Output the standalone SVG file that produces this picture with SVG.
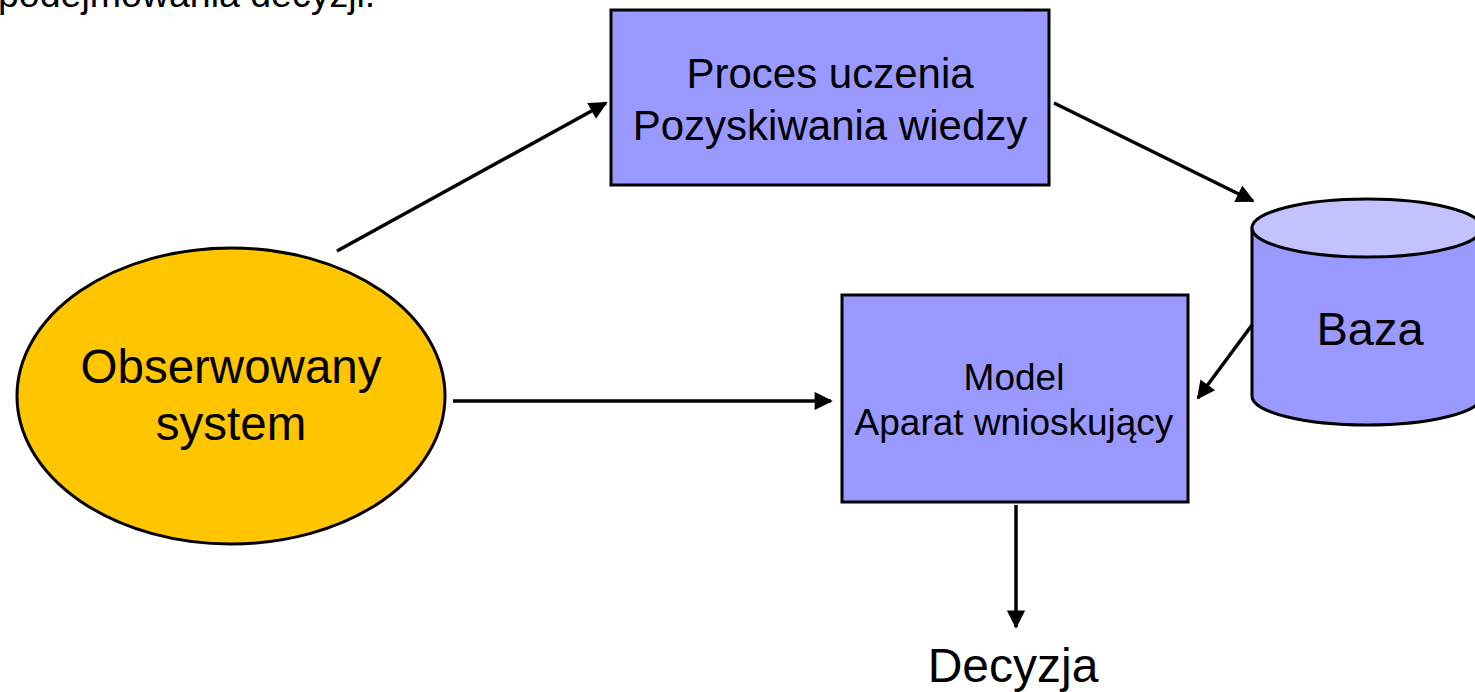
<svg xmlns="http://www.w3.org/2000/svg" width="1475" height="692" viewBox="0 0 1475 692">
<style>
text{font-family:"Liberation Sans",Arial,sans-serif;fill:#000;text-anchor:middle}
.box{fill:#9999FF;stroke:#000;stroke-width:3}
.con{stroke:#000;stroke-width:3.5;fill:none;marker-end:url(#ah)}
</style>
<defs>
<marker id="ah" viewBox="0 0 10 10" refX="9" refY="5" markerWidth="6.5" markerHeight="5.2" markerUnits="strokeWidth" orient="auto">
<path d="M0,0 L10,5 L0,10 Z" fill="#000"/>
</marker>
</defs>
<text x="-2" y="7" style="text-anchor:start;font-size:37.5px">podejmowania decyzji.</text>
<g id="observed">
<ellipse cx="231" cy="396" rx="214" ry="148" fill="#FFC600" stroke="#000" stroke-width="3"/>
<text x="231" y="383" font-size="47.5">Obserwowany</text>
<text x="231" y="440" font-size="47.5">system</text>
</g>
<g id="learning">
<rect class="box" x="611" y="10" width="438" height="175"/>
<text x="830" y="88" font-size="42">Proces uczenia</text>
<text x="830" y="140" font-size="42">Pozyskiwania wiedzy</text>
</g>
<g id="model">
<rect class="box" x="842" y="295" width="346" height="207"/>
<text x="1014" y="390" font-size="37">Model</text>
<text x="1014" y="435" font-size="37">Aparat wnioskujący</text>
</g>
<g id="baza">
<path d="M1252,228 L1252,396 A115,29 0 0 0 1482,396 L1482,228 Z" fill="#9999FF" stroke="#000" stroke-width="3"/>
<ellipse cx="1367" cy="228" rx="115" ry="29" fill="#C2C2FF" stroke="#000" stroke-width="3"/>
<text x="1370" y="345" font-size="47">Baza</text>
</g>
<g id="decyzja">
<text x="1013" y="682" font-size="48">Decyzja</text>
</g>
<g id="connectors">
<line class="con" x1="337" y1="251" x2="606" y2="103"/>
<line class="con" x1="1054" y1="103" x2="1253" y2="201"/>
<line class="con" x1="1252" y1="325" x2="1198" y2="398"/>
<line class="con" x1="453" y1="401" x2="831" y2="401"/>
<line class="con" x1="1016" y1="505" x2="1016" y2="627"/>
</g>
</svg>
